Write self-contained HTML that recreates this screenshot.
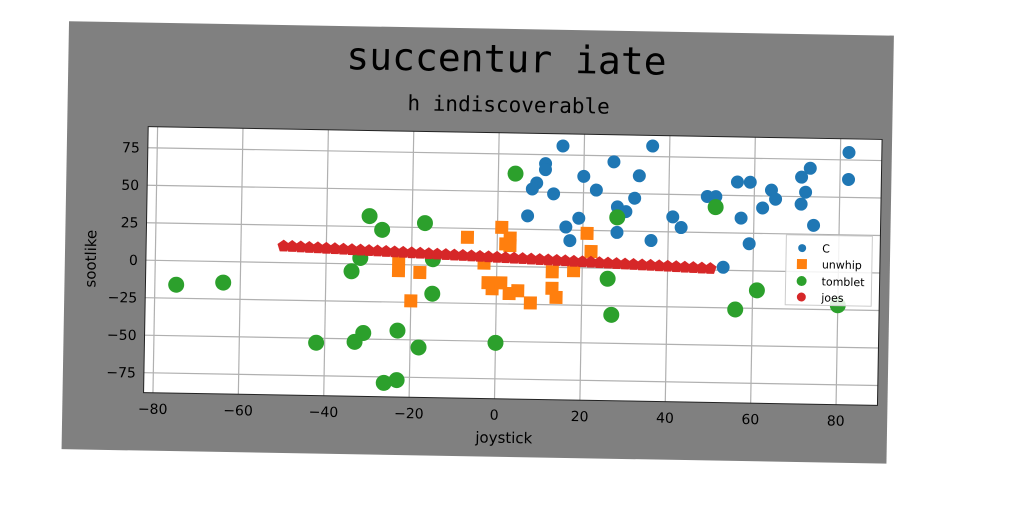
<!DOCTYPE html>
<html><head><meta charset="utf-8"><style>
html,body{margin:0;padding:0;background:#fff;width:1024px;height:512px;overflow:hidden}
svg{display:block}
text{font-family:"DejaVu Sans","Liberation Sans",sans-serif}
</style></head><body>
<svg id="chart" width="1024" height="512" viewBox="0 0 1024 512" xmlns="http://www.w3.org/2000/svg">
<g id="rot" transform="rotate(1 512 256)">
<rect x="65" y="29" width="825" height="428" fill="#808080"/>
<text x="503" y="72" text-anchor="middle" font-size="38" style="font-family:'DejaVu Sans Mono','Liberation Mono',monospace">succentur iate</text>
<text x="506" y="112" text-anchor="middle" font-size="21" style="font-family:'DejaVu Sans Mono','Liberation Mono',monospace">h indiscoverable</text>
<rect x="146" y="133" width="734" height="266" fill="#fff"/>
<g id="grid"></g>
<g id="marks"></g>
<g id="axes"></g>
<text x="507" y="443" text-anchor="middle" font-size="15">joystick</text>
<text transform="translate(96 266) rotate(-90)" text-anchor="middle" font-size="15">sootlike</text>
<g>
<rect x="786" y="230" width="86" height="70" fill="#fff" fill-opacity="0.85" stroke="#ccc"/>
<circle cx="802" cy="243" r="4" fill="#1f77b4"/>
<text x="822" y="247" font-size="11">C</text>
<rect x="797" y="254" width="10" height="10" fill="#ff7f0e"/>
<text x="822" y="263" font-size="11">unwhip</text>
<circle cx="802" cy="276" r="5" fill="#2ca02c"/>
<text x="822" y="280" font-size="11">tomblet</text>
<circle cx="802" cy="292" r="4.5" fill="#d62728"/>
<text x="822" y="296" font-size="11">joes</text>
</g>
</g>
</svg>
<script>
const xTicks=[-80,-60,-40,-20,0,20,40,60,80];
const yTicks=[-75,-50,-25,0,25,50,75];
const cX=[15,36,11,11,27,20,33,9,8,23,13,32,28,30,7,19,16,28,17,36,41,43,56,59,49,51,64,65,62,57,71,73,72,71,74,82,82,59,53];
const cY=[81,82,69,65,71,61,62,56,52,52,49,47,41,38,34,33,27,24,18,19,35,28,59,59,49,49,54,48,42,35,63,69,53,45,31,80,62,18,2];
const uX=[-7,1,3,3,2,-23,-18,-20,-2,-1,3,-3,-23,21,22,13,18,5,8,13,14,1];
const uY=[19,26,19,14,15,-4,-5,-24,-11,-15,-18,2,4,23,11,-3,-2,-16,-24,-14,-20,-11];
const tX=[-75,-64,-30,-27,-17,-32,-34,-15,-15,-42,-33,-31,-23,-18,0,-26,-23,4,28,51,26,27,56,61,80];
const tY=[-16,-14,32,23,28,4,-5,4,-19,-53,-52,-46,-44,-55,-51,-79,-77,62,34,42,-7,-31,-26,-13,-22];
const jX=[-50,-48,-46,-44,-42,-40,-38,-36,-34,-32,-30,-28,-26,-24,-22,-20,-18,-16,-14,-12,-10,-8,-6,-4,-2,0,2,4,6,8,10,12,14,16,18,20,22,24,26,28,30,32,34,36,38,40,42,44,46,48,50];
const jY=[11,10.8,10.6,10.4,10.2,10,9.8,9.6,9.4,9.2,9,8.8,8.6,8.4,8.2,8,7.8,7.6,7.4,7.2,7,6.8,6.6,6.4,6.2,6,5.8,5.6,5.4,5.2,5,4.8,4.6,4.4,4.2,4,3.8,3.6,3.4,3.2,3,2.8,2.6,2.4,2.2,2,1.8,1.6,1.4,1.2,1];
const NS="http://www.w3.org/2000/svg";
const sx=v=>497+4.27*v, sy=v=>266.6-1.5*v;
function mk(tag,attrs,parent){const e=document.createElementNS(NS,tag);for(const k in attrs)e.setAttribute(k,attrs[k]);parent.appendChild(e);return e;}
const grid=document.getElementById('grid'),marks=document.getElementById('marks'),axes=document.getElementById('axes');
xTicks.forEach(t=>{
 const g=mk('line',{x1:sx(t),x2:sx(t),y1:133,y2:399,stroke:'#b0b0b0','stroke-width':1.2},grid);
 
 
 const l=mk('text',{x:sx(t),y:420,'text-anchor':'middle','font-size':14},axes);
 
 
 l.textContent=t<0?'\u2212'+(-t):String(t);
});
yTicks.forEach(t=>{
 const g=mk('line',{x1:146,x2:880,y1:sy(t),y2:sy(t),stroke:'#b0b0b0','stroke-width':1.2},grid);
 
 
 const l=mk('text',{x:138,y:sy(t)+5,'text-anchor':'end','font-size':14},axes);
 
 
 l.textContent=t<0?'\u2212'+(-t):String(t);
});
const fr=mk('rect',{x:146,y:133,width:734,height:266,fill:'none',stroke:'#222','stroke-width':1},axes);


cX.forEach((v,i)=>{const c=mk('circle',{cx:sx(v),cy:sy(cY[i]),r:6.5,fill:'#1f77b4'},marks);
 
 });
uX.forEach((v,i)=>{const c=mk('rect',{x:sx(v)-6.5,y:sy(uY[i])-6.5,width:13,height:13,fill:'#ff7f0e'},marks);
 
 });
tX.forEach((v,i)=>{const c=mk('circle',{cx:sx(v),cy:sy(tY[i]),r:8,fill:'#2ca02c'},marks);
 
 });
jX.forEach((v,i)=>{const x=sx(v),y=sy(jY[i]),r=6.5;let p=[];
 for(let k=0;k<5;k++){const a=-Math.PI/2+k*2*Math.PI/5;p.push((x+r*Math.cos(a)).toFixed(1)+','+(y+r*Math.sin(a)).toFixed(1));}
 const c=mk('polygon',{points:p.join(' '),fill:'#d62728'},marks);
 
 });
</script>
</body></html>
